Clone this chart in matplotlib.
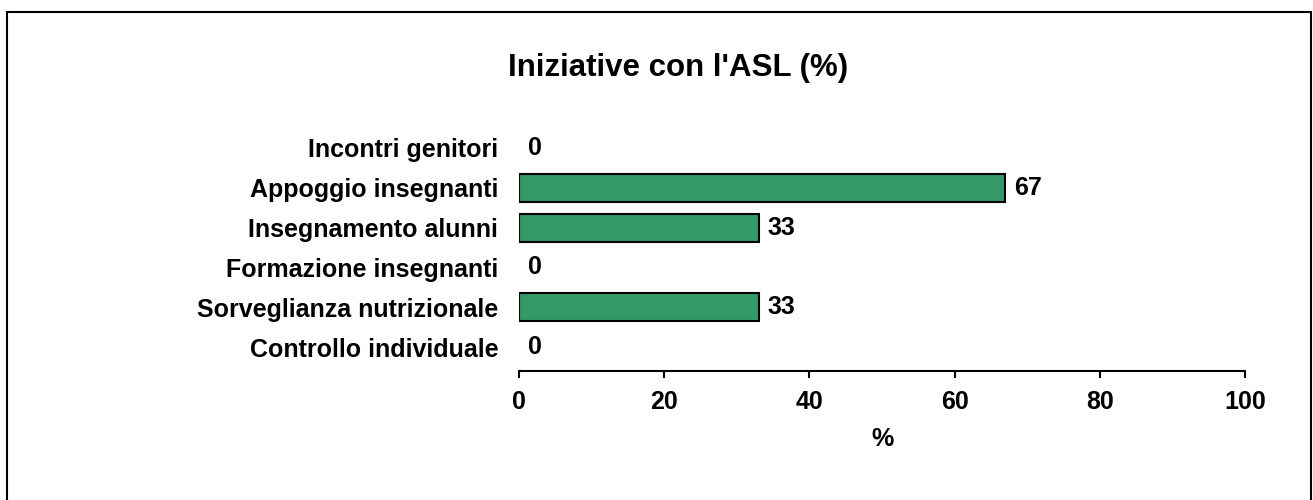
import matplotlib
matplotlib.use("Agg")
import matplotlib.pyplot as plt
from matplotlib.patches import Rectangle

categories = ["Controllo individuale", "Sorveglianza nutrizionale", "Formazione insegnanti",
              "Insegnamento alunni", "Appoggio insegnanti", "Incontri genitori"]
values = [0, 33, 0, 33, 67, 0]
xticks = [0, 20, 40, 60, 80, 100]

plt.rcParams['font.family'] = ['Liberation Sans', 'DejaVu Sans']
plt.rcParams['font.weight'] = 'bold'

W, H = 1313, 500
fig = plt.figure(figsize=(W/100, H/100), dpi=100)
ax = fig.add_axes([519/W, 1-371/H, (1245-519)/W, (371-128)/H])

ypos = list(range(len(categories)))
bars = ax.barh(ypos, values, height=0.7, color='#339966', edgecolor='black', linewidth=1.5)
for b, v in zip(bars, values):
    if v == 0:
        b.set_linewidth(0)

for y, v in zip(ypos, values):
    ax.annotate(str(v), (v, y), xytext=(9, 0), textcoords='offset pixels',
                ha='left', va='center', fontsize=18, fontweight='bold')

ax.set_xlim(0, 100)
ax.set_ylim(-0.6, 5.5)
ax.set_yticks(ypos)
ax.set_yticklabels(categories, fontsize=18, fontweight='bold')
ax.set_xticks(xticks)
ax.set_xticklabels([str(x) for x in xticks], fontsize=18, fontweight='bold')
ax.tick_params(axis='y', length=0, pad=15)
ax.tick_params(axis='x', length=5, width=1.5, direction='out', pad=9)
for s in ['top', 'right', 'left']:
    ax.spines[s].set_visible(False)
ax.spines['bottom'].set_linewidth(1.5)
ax.set_xlabel('%', fontsize=18, fontweight='bold', labelpad=9)

fig.text(678/W, 1-68/H, "Iniziative con l'ASL (%)", ha='center', va='center',
         fontsize=22.5, fontweight='bold')

border = Rectangle((7/W, -0.1), (1311-7)/W, (1-12/H)+0.1, transform=fig.transFigure,
                   fill=False, edgecolor='black', linewidth=1.5, clip_on=False)
fig.patches.append(border)

fig.savefig('out.png', dpi=100)
